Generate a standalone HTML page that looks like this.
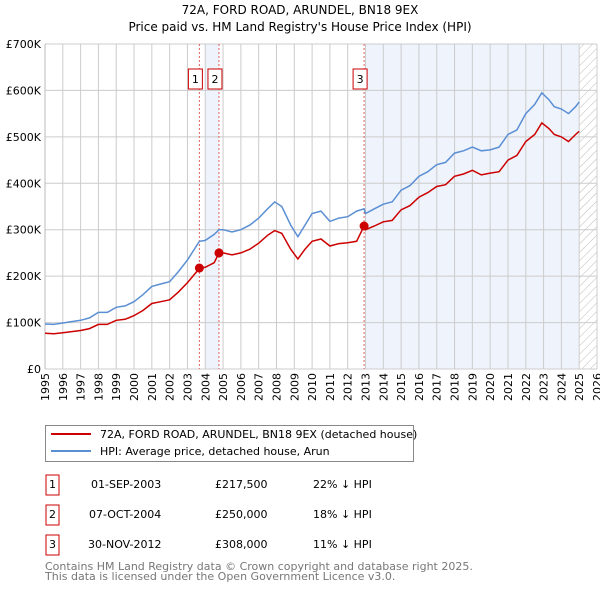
<!DOCTYPE html>
<html><head><meta charset="utf-8"><style>
body{margin:0;background:#fff;font-family:"Liberation Sans","DejaVu Sans",sans-serif;}
svg text{font-family:"DejaVu Sans","Liberation Sans",sans-serif;}
</style></head><body>
<svg id="c" width="600" height="590" viewBox="0 0 600 590" xmlns="http://www.w3.org/2000/svg">
<defs><pattern id="hatch" width="6" height="6" patternUnits="userSpaceOnUse" patternTransform="rotate(45)"><line x1="0" y1="0" x2="0" y2="6" stroke="#bbb" stroke-width="1"/></pattern></defs>
<text x="300" y="14" text-anchor="middle" font-size="12">72A, FORD ROAD, ARUNDEL, BN18 9EX</text>
<text x="300" y="31" text-anchor="middle" font-size="12">Price paid vs. HM Land Registry's House Price Index (HPI)</text>
<g id="plot"></g>
<g>
<rect x="45.5" y="425.5" width="368" height="36" fill="#fff" stroke="#888"/>
<line x1="51" y1="434" x2="91" y2="434" stroke="#cc0000" stroke-width="2"/>
<text x="100" y="438" font-size="11">72A, FORD ROAD, ARUNDEL, BN18 9EX (detached house)</text>
<line x1="51" y1="451" x2="91" y2="451" stroke="#5b8fd4" stroke-width="2"/>
<text x="100" y="455" font-size="11">HPI: Average price, detached house, Arun</text>
</g>
<g font-size="11">
<rect x="46" y="475" width="13" height="20" fill="#fff" stroke="#cc0000"/><text x="52.5" y="488" text-anchor="middle">1</text>
<text x="91" y="488">01-SEP-2003</text><text x="215" y="488">£217,500</text><text x="313" y="488">22% ↓ HPI</text>
<rect x="46" y="505" width="13" height="20" fill="#fff" stroke="#cc0000"/><text x="52.5" y="518" text-anchor="middle">2</text>
<text x="89" y="518">07-OCT-2004</text><text x="215" y="518">£250,000</text><text x="313" y="518">18% ↓ HPI</text>
<rect x="46" y="535" width="13" height="20" fill="#fff" stroke="#cc0000"/><text x="52.5" y="548" text-anchor="middle">3</text>
<text x="88" y="548">30-NOV-2012</text><text x="215" y="548">£308,000</text><text x="313" y="548">11% ↓ HPI</text>
</g>
<text x="45" y="570" font-size="11" fill="#777">Contains HM Land Registry data © Crown copyright and database right 2025.</text>
<text x="45" y="580" font-size="11" fill="#777">This data is licensed under the Open Government Licence v3.0.</text>
</svg>
<script>
const years=[1995,1995.5,1996,1997,1997.5,1998,1998.5,1999,1999.5,2000,2000.5,2001,2001.5,2002,2002.5,2003,2003.5,2003.67,2004,2004.5,2004.77,2005,2005.5,2006,2006.5,2007,2007.5,2007.9,2008.3,2008.8,2009.2,2009.6,2010,2010.5,2011,2011.5,2012,2012.5,2012.92,2013,2013.5,2014,2014.5,2015,2015.5,2016,2016.5,2017,2017.5,2018,2018.5,2019,2019.5,2020,2020.5,2021,2021.5,2022,2022.5,2022.9,2023.3,2023.6,2024,2024.4,2024.8,2025];
const hpi=[97,96,99,105,110,122,122,133,136,145,160,178,183,188,210,235,265,275,277,290,300,300,295,300,310,325,345,360,350,310,285,310,335,340,318,325,328,340,345,335,345,355,360,385,395,415,425,440,445,465,470,478,470,472,478,505,515,550,570,595,580,565,560,550,565,575];
const paid=[77,76,78,83,87,96,96,105,107,115,126,141,145,149,166,186,209,217.5,219,229,250,250,246,250,258,271,288,298,292,258,237,258,275,280,265,270,272,275,308,300,308,317,320,343,352,370,380,393,397,415,420,428,418,422,425,450,460,490,505,530,518,505,500,490,505,512];
const saleYears=[2003.67,2004.77,2012.92];
const saleValues=[217.5,250,308];
const saleLabels=["1","2","3"];
const yTicks=[0,100,200,300,400,500,600,700];
const yTickLabels=["£0","£100K","£200K","£300K","£400K","£500K","£600K","£700K"];
const xTicks=[];for(let y=1995;y<=2026;y++)xTicks.push(y);

const X0=45,X1=597,Y0=369,Y1=44;
const xs=v=>X0+(v-1995)/(2026-1995)*(X1-X0);
const ys=v=>Y0-(v/700)*(Y0-Y1);
const NS="http://www.w3.org/2000/svg";
const g=document.getElementById('plot');
function mk(t,a,p){const e=document.createElementNS(NS,t);for(const k in a)e.setAttribute(k,a[k]);(p||g).appendChild(e);return e;}

let e=mk('rect',{x:X0,y:Y1,width:X1-X0,height:Y0-Y1,fill:'#fff'});


e=mk('rect',{x:xs(2004),y:Y1,width:xs(saleYears[1])-xs(2004),height:Y0-Y1,fill:'#eef3fc'});


e=mk('rect',{x:xs(saleYears[2])+1,y:Y1,width:xs(2025)-xs(saleYears[2])-1,height:Y0-Y1,fill:'#eef3fc'});


e=mk('rect',{x:xs(2025),y:Y1,width:X1-xs(2025),height:Y0-Y1,fill:'url(#hatch)'});



xTicks.forEach(t=>{
  e=mk('line',{x1:xs(t),x2:xs(t),y1:Y1,y2:Y0,stroke:'#ccc','stroke-width':1});
  
  
  e=mk('text',{x:0,y:0,'font-size':11,'text-anchor':'end',transform:`translate(${xs(t)+4},${Y0+4}) rotate(-90)`});
  e.textContent=t;
  
  
});
yTicks.forEach((t,i)=>{
  e=mk('line',{x1:X0,x2:X1,y1:ys(t),y2:ys(t),stroke:'#ccc','stroke-width':1});
  
  
  e=mk('text',{x:X0-4,y:ys(t)+4,'font-size':11,'text-anchor':'end'});
  e.textContent=yTickLabels[i];
  
  
});
e=mk('line',{x1:X0,x2:X0,y1:Y1,y2:Y0,stroke:'#bbb'});



saleYears.forEach((s,i)=>{
  e=mk('line',{x1:xs(s),x2:xs(s),y1:Y1,y2:Y0,stroke:'#e06060','stroke-dasharray':'2,2'});
  
  
  e=mk('rect',{x:xs(s)-11,y:69,width:14,height:20,fill:'#fff',stroke:'#cc0000'});
  
  
  e=mk('text',{x:xs(s)-4,y:83,'font-size':11,'text-anchor':'middle'});
  e.textContent=saleLabels[i];
  
  
});

function path(arr){return arr.map((v,i)=>(i?'L':'M')+xs(years[i]).toFixed(1)+','+ys(v).toFixed(1)).join('');}
e=mk('path',{d:path(hpi),fill:'none',stroke:'#5b8fd4','stroke-width':1.5});


e=mk('path',{d:path(paid),fill:'none',stroke:'#cc0000','stroke-width':1.5});


saleYears.forEach((s,i)=>{
  e=mk('circle',{cx:xs(s),cy:ys(saleValues[i]),r:4.5,fill:'#cc0000'});
  
  
});
</script>
</body></html>
